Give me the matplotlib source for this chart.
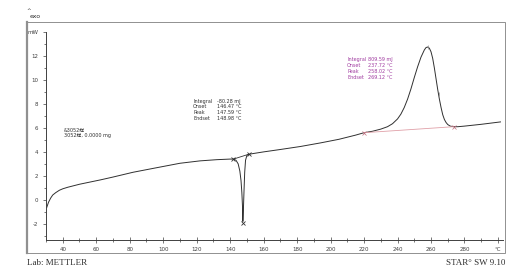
import numpy as np
import matplotlib
matplotlib.use("Agg")
import matplotlib.pyplot as plt
from matplotlib.patches import Rectangle

plt.rcParams['font.family'] = ['DejaVu Sans', 'Noto Sans CJK SC']

# DSC curve (temperature in °C, heat flow in mW)
temp = [30.4, 31.5, 32.8, 34.0, 35.8, 38.0, 40.0, 43.0, 50.0, 62.7, 70.0, 82.0, 95.0,
        110.0, 122.0, 132.0, 140.0, 142.0, 143.5, 144.8, 145.8, 146.5, 147.0, 147.4,
        147.6, 147.9, 148.3, 148.7, 149.2, 150.0, 151.0, 160.0, 170.0, 182.0, 194.0,
        205.0, 215.0, 220.0, 225.0, 230.0, 234.0, 237.0, 240.0, 242.0, 244.0, 246.0,
        248.0, 250.0, 252.0, 254.0, 256.0, 257.0, 258.0, 259.0, 260.0, 261.0, 262.0,
        263.0, 264.0, 265.0, 266.0, 267.0, 268.0, 269.0, 270.0, 271.5, 273.5, 276.0,
        280.0, 290.0, 301.5]
heat = [-0.65, -0.2, 0.15, 0.4, 0.6, 0.8, 0.92, 1.05, 1.3, 1.67, 1.9, 2.3, 2.65,
        3.05, 3.25, 3.35, 3.4, 3.4, 3.3, 3.0, 2.4, 1.6, 0.6, -0.6,
        -1.8, -0.9, 0.8, 2.3, 3.3, 3.7, 3.8, 4.0, 4.2, 4.45, 4.75,
        5.05, 5.4, 5.6, 5.72, 5.9, 6.1, 6.35, 6.75, 7.15, 7.7, 8.4,
        9.25, 10.2, 11.1, 11.9, 12.5, 12.7, 12.75, 12.65, 12.35, 11.8, 11.0,
        10.1, 9.2, 8.4, 7.7, 7.1, 6.7, 6.45, 6.28, 6.15, 6.1, 6.1,
        6.15, 6.3, 6.5]

# evaluation limits (°C)
endo_limits = [142.0, 151.0]
endo_peak = 147.6
exo_limits = [220.0, 273.5]
exo_marks = [258.0, 264.5]

endo_labels = ["Integral", "Onset", "Peak", "Endset"]
endo_values = ["-80.28 mJ", "146.47 °C", "147.59 °C", "148.98 °C"]
exo_labels = ["Integral", "Onset", "Peak", "Endset"]
exo_values = ["809.59 mJ", "237.72 °C", "258.02 °C", "269.12 °C"]

sample_lines = ["&3052样", "3052样, 0.0000 mg"]

xticks = [40, 60, 80, 100, 120, 140, 160, 180, 200, 220, 240, 260, 280, 300]
xticklabels = [str(t) for t in xticks[:-1]] + ["°C"]
yticks = [-2, 0, 2, 4, 6, 8, 10, 12, 14]
yticklabels = [str(t) for t in yticks[:-1]] + ["mW"]

W, H = 527, 273
fig = plt.figure(figsize=(W / 100, H / 100), dpi=100)
ax = fig.add_axes([46 / W, 1 - 240 / H, (503 - 46) / W, (240 - 32) / H])

ax.plot(temp, heat, color='#303030', lw=0.7)

# endotherm baseline + markers
ey = np.interp(endo_limits, temp, heat)
ax.plot(endo_limits, ey, color='#303030', lw=0.6)
ax.plot(endo_limits, ey, ls='none', marker='x', ms=3, mew=0.6, color='#303030')
ax.plot([endo_peak], [np.interp(endo_peak, temp, heat) - 0.1], ls='none', marker='x',
        ms=3, mew=0.6, color='#303030')

# exotherm baseline + markers
xy = np.interp(exo_limits, temp, heat)
ax.plot(exo_limits, xy, color='#e0a0a8', lw=0.6)
ax.plot(exo_limits, xy, ls='none', marker='x', ms=2.5, mew=0.5, color='#c07080')
ax.plot(exo_marks, np.interp(exo_marks, temp, heat), ls='none', marker='|', ms=3,
        mew=0.5, color='#909090')

ax.set_xlim(30.4, 303)
ax.set_ylim(-3.35, 14)
for s in ['top', 'right']:
    ax.spines[s].set_visible(False)
for s in ['left', 'bottom']:
    ax.spines[s].set_color('#404040')
    ax.spines[s].set_linewidth(0.7)

ax.set_xticks(xticks)
ax.set_xticklabels(xticklabels)
ax.set_xticks(np.arange(30, 301, 10), minor=True)
ax.set_yticks(yticks)
ax.set_yticklabels(yticklabels)
ax.set_yticks(np.arange(-3, 14, 1), minor=True)
ax.tick_params(axis='both', labelsize=4, colors='#404040', width=0.5, length=2.5, pad=3)
ax.tick_params(axis='both', which='minor', width=0.5, length=1.5, colors='#404040')
ax.tick_params(axis='x', direction='inout', length=4)
ax.tick_params(axis='x', which='minor', direction='inout', length=3)
ax.patch.set_visible(False)

# annotations
fs = 3.5
for i, (l, v) in enumerate(zip(endo_labels, endo_values)):
    fig.text(193 / W, 1 - (101 + 6 * i) / H, l, fontsize=fs, color='#303030', va='center')
    fig.text(217 / W, 1 - (101 + 6 * i) / H, v, fontsize=fs, color='#303030', va='center')
for i, (l, v) in enumerate(zip(exo_labels, exo_values)):
    fig.text(347 / W, 1 - (59 + 6.3 * i) / H, l, fontsize=fs, color='#a03ca0', va='center')
    fig.text(368 / W, 1 - (59 + 6.3 * i) / H, v, fontsize=fs, color='#a03ca0', va='center')
for i, s in enumerate(sample_lines):
    fig.text(64 / W, 1 - (130 + 6 * i) / H, s, fontsize=fs, color='#303030', va='center',
             family=['DejaVu Sans', 'Noto Sans CJK SC'])

# frame
fig.patches.append(Rectangle((27 / W, 1 - 253 / H), (505 - 27) / W, (253 - 22) / H,
                             transform=fig.transFigure, fill=False, ec='#909090', lw=0.7))
fig.add_artist(plt.Line2D([27 / W, 27 / W], [1 - 253 / H, 1 - 22 / H],
                          transform=fig.transFigure, color='#909090', lw=1.6))

fig.text(30 / W, 1 - 16 / H, "exo", fontsize=4.5, color='#303030', va='center')
fig.text(26 / W, 1 - 11 / H, "^", fontsize=4, color='#303030', va='center')
fig.text(27 / W, 1 - 263 / H, "Lab: METTLER", fontsize=6.5, color='#303030', va='center',
         family='Liberation Serif', stretch='condensed')
fig.text(505 / W, 1 - 263 / H, "STAR° SW 9.10", fontsize=6.5, color='#303030', va='center',
         ha='right', family='Liberation Serif')

fig.savefig("out.png", dpi=100)
